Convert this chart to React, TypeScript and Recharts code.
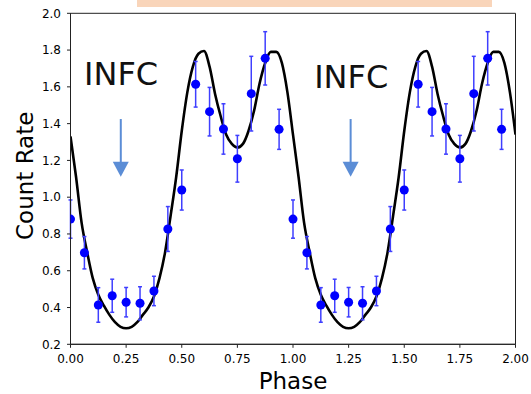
import React from 'react'
import {
    ComposedChart,
    Line,
    Scatter,
    ErrorBar,
    XAxis,
    YAxis,
    ZAxis,
    Label,
    ReferenceLine,
    ReferenceDot,
    ReferenceArea
} from 'recharts'

// binned light curve, one cycle (repeated once more at phase + 1)
const binPhase = [0, 0.0625, 0.125, 0.1875, 0.25, 0.3125, 0.375, 0.4375, 0.5, 0.5625, 0.625, 0.6875, 0.75, 0.8125, 0.875, 0.9375]
const binRate = [0.881, 0.698, 0.414, 0.464, 0.429, 0.423, 0.49, 0.827, 1.039, 1.614, 1.465, 1.371, 1.209, 1.563, 1.755, 1.369]
const binErr = [0.104, 0.088, 0.094, 0.09, 0.08, 0.09, 0.08, 0.122, 0.109, 0.124, 0.132, 0.137, 0.127, 0.203, 0.145, 0.109]

// model curve, one cycle
const modelPhase = [0, 0.025, 0.05, 0.075, 0.1, 0.125, 0.15, 0.175, 0.2, 0.225, 0.25, 0.275, 0.3, 0.325, 0.35, 0.375, 0.4, 0.425, 0.45, 0.475, 0.5, 0.525, 0.55, 0.575, 0.6, 0.625, 0.65, 0.675, 0.7, 0.725, 0.75, 0.775, 0.8, 0.825, 0.85, 0.875, 0.9, 0.925, 0.95, 0.975, 1]
const modelRate = [1.33, 1.11, 0.86, 0.7, 0.56, 0.47, 0.41, 0.36, 0.32, 0.295, 0.287, 0.295, 0.32, 0.36, 0.4, 0.46, 0.56, 0.7, 0.9, 1.11, 1.36, 1.57, 1.71, 1.78, 1.795, 1.71, 1.56, 1.44, 1.34, 1.29, 1.27, 1.29, 1.36, 1.47, 1.62, 1.73, 1.79, 1.79, 1.73, 1.57, 1.34]

const xTicks = [0, 0.25, 0.5, 0.75, 1, 1.25, 1.5, 1.75, 2]
const yTicks = [0.2, 0.4, 0.6, 0.8, 1.0, 1.2, 1.4, 1.6, 1.8, 2.0]

// annotations
const arrowPhase = [0.226, 1.259]
const arrowTop = 1.425
const arrowBase = 1.19
const arrowTip = 1.111
const infcPhase = [0.061, 1.095]
const infcRate = [1.61, 1.595]

const points = [0, 1].flatMap((c) =>
    binPhase.map((p, i) => ({ phase: p + c, rate: binRate[i], err: binErr[i] }))
)
const model = [0, 1].flatMap((c) =>
    modelPhase
        .map((p, i) => ({ phase: p + c, rate: modelRate[i] }))
        .filter((d) => !(c === 1 && d.phase === 1))
)

const FONT = 'DejaVu Sans, sans-serif'
const ARROW = '#5B8DD6'

const YLabel = ({ viewBox }: any) => (
    <text
        x={viewBox.x + 22.5}
        y={viewBox.y + viewBox.height / 2 - 3}
        transform={`rotate(-90, ${viewBox.x + 22.5}, ${viewBox.y + viewBox.height / 2 - 3})`}
        textAnchor="middle"
        fontSize={23}
        fontFamily={FONT}
        fill="#000"
    >
        Count Rate
    </text>
)

const XLabel = ({ viewBox }: any) => (
    <text
        x={viewBox.x + viewBox.width / 2}
        y={viewBox.y + 44.5}
        textAnchor="middle"
        fontSize={23}
        fontFamily={FONT}
        fill="#000"
    >
        Phase
    </text>
)

const ArrowHead = ({ cx, cy }: any) => (
    <polygon points={`${cx - 8},${cy - 15} ${cx + 8},${cy - 15} ${cx},${cy}`} fill={ARROW} />
)

const InfcText = ({ cx, cy }: any) => (
    <text x={cx} y={cy} fontSize={32} fontFamily={FONT} fill="#111">
        INFC
    </text>
)

export default function App() {
    return (
        <div style={{ position: 'absolute', left: 0, top: 0, width: 531, height: 394, background: '#fff' }}>
            <div
                style={{ position: 'absolute', left: 137, top: 0, width: 355, height: 7.3, background: '#F9D5BA' }}
            />
            <ComposedChart
                width={531}
                height={394}
                margin={{ top: 13.3, right: 15.5, bottom: 0, left: 10.5 }}
                style={{ fontFamily: FONT }}
            >
                <XAxis
                    dataKey="phase"
                    type="number"
                    domain={[0, 2]}
                    ticks={xTicks}
                    allowDataOverflow
                    height={49.7}
                    tickSize={3.5}
                    tickMargin={6.5}
                    tickFormatter={(v) => v.toFixed(2)}
                    tick={{ fill: '#000', fontSize: 12, fontFamily: FONT }}
                    axisLine={{ stroke: '#222', strokeWidth: 1 }}
                    tickLine={{ stroke: '#222', strokeWidth: 1 }}
                >
                    <Label content={XLabel} />
                </XAxis>
                <YAxis
                    dataKey="rate"
                    type="number"
                    domain={[0.2, 2.0]}
                    ticks={yTicks}
                    allowDataOverflow
                    width={60}
                    tickSize={3.5}
                    tickMargin={6}
                    tickFormatter={(v) => v.toFixed(1)}
                    tick={{ fill: '#000', fontSize: 12, fontFamily: FONT }}
                    axisLine={{ stroke: '#222', strokeWidth: 1 }}
                    tickLine={{ stroke: '#222', strokeWidth: 1 }}
                >
                    <Label content={YLabel} />
                </YAxis>
                <ZAxis range={[64, 64]} />
                <ReferenceArea x1={0} x2={2} y1={0.2} y2={2.0} fill="none" stroke="#222" strokeWidth={1} />

                <Line
                    data={model}
                    dataKey="rate"
                    type="monotone"
                    stroke="#000"
                    strokeWidth={2.6}
                    dot={false}
                    activeDot={false}
                    isAnimationActive={false}
                />
                <Scatter data={points} dataKey="rate" fill="#0000FF" isAnimationActive={false}>
                    <ErrorBar dataKey="err" direction="y" width={2} stroke="#3F3FFF" strokeWidth={1.5} />
                </Scatter>

                {arrowPhase.map((p) => (
                    <ReferenceLine
                        key={`shaft-${p}`}
                        segment={[{ x: p, y: arrowTop }, { x: p, y: arrowBase }]}
                        stroke={ARROW}
                        strokeWidth={2}
                    />
                ))}
                {arrowPhase.map((p) => (
                    <ReferenceDot key={`head-${p}`} x={p} y={arrowTip} shape={ArrowHead} />
                ))}
                {infcPhase.map((p, i) => (
                    <ReferenceDot key={`infc-${p}`} x={p} y={infcRate[i]} shape={InfcText} />
                ))}
            </ComposedChart>
        </div>
    )
}
